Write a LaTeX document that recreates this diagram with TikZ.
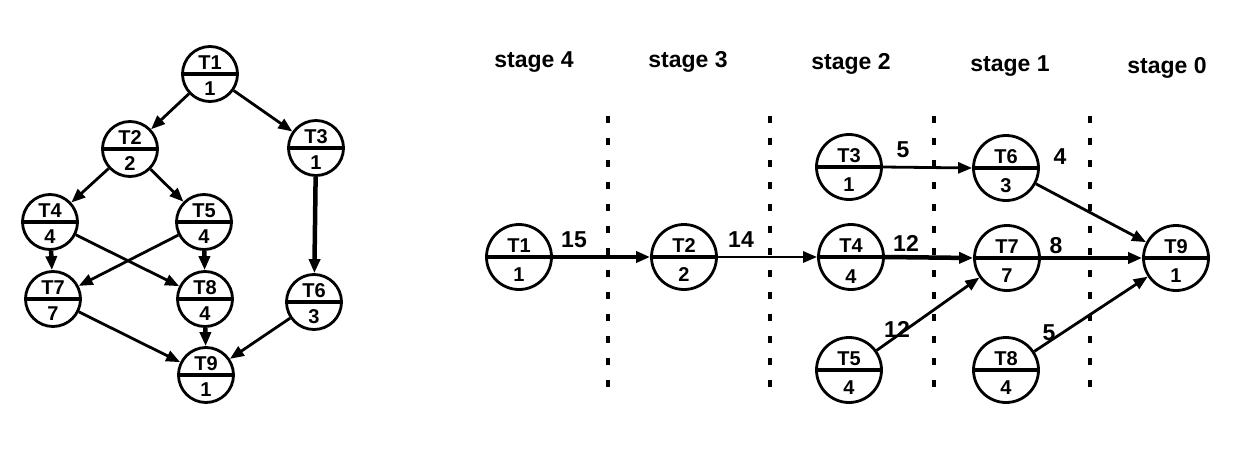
\documentclass[tikz,border=0pt]{standalone}
\usepackage{fontspec}
\setmainfont{Liberation Sans}
\usetikzlibrary{arrows.meta}
\newcommand\tsk[7]{% name, x, y, radius, top, bottom, lower offset
  \node[circle,draw,line width=2.8pt,minimum size=#4*2pt,inner sep=0pt] (#1) at (#2,#3) {};
  \draw[line width=4.5pt] (#1.west) -- (#1.east);
  \node[lab] (#1t) at ([yshift=11.5pt]#1.center) {#5};
  \node[lab] (#1b) at ([yshift=-#7pt]#1.center) {#6};
}
\begin{document}
\begin{tikzpicture}[x=1pt,y=-1pt,
  lab/.style={font=\fontsize{20}{20}\selectfont\bfseries,inner sep=0pt},
  big/.style={font=\fontsize{23}{23}\selectfont\bfseries,inner sep=0pt,anchor=base},
  edge/.style={line width=2.8pt,-{Triangle[length=14pt,width=11pt]}},
  tedge/.style={line width=4.5pt,-{Triangle[length=14pt,width=11pt]}},
  sep/.style={line width=4.5pt,dash pattern=on 7pt off 15pt}]
\useasboundingbox (0,0) rectangle (1259,466);
% left graph
\tsk{A1}{210}{74}{27.5}{T1}{1}{15}
\tsk{A2}{130}{149}{27.5}{T2}{2}{15}
\tsk{A3}{316}{148}{27.5}{T3}{1}{15}
\tsk{A4}{50}{222}{27.5}{T4}{4}{15}
\tsk{A5}{204}{222}{27.5}{T5}{4}{15}
\tsk{A7}{53}{299}{27.5}{T7}{7}{15}
\tsk{A8}{205}{299}{27.5}{T8}{4}{15}
\tsk{A6}{314}{302}{27.5}{T6}{3}{15}
\tsk{A9}{206}{375}{27.5}{T9}{1}{15}
\draw[edge] (A1) -- (A2);
\draw[edge] (A1) -- (A3);
\draw[edge] (A2) -- (A4);
\draw[edge] (A2) -- (A5);
\draw[tedge] (A3) -- (A6);
\draw[tedge] (A4) -- (A7);
\draw[edge] (A4) -- (A8);
\draw[edge] (A5) -- (A7);
\draw[tedge] (A5) -- (A8);
\draw[edge] (A7) -- (A9);
\draw[tedge] (A8) -- (A9);
\draw[edge] (A6) -- (A9);
% separators
\foreach \x/\n in {608/s1,770/s2,934/s3,1090/s4}{
  \coordinate (\n a) at (\x,116);
  \coordinate (\n b) at (\x,392);
  \draw[sep] (\n a) -- (\n b);
}
% stage labels
\node[big] (st4) at (534,67) {stage 4};
\node[big] (st3) at (688,67) {stage 3};
\node[big] (st2) at (851,69) {stage 2};
\node[big] (st1) at (1010,71) {stage 1};
\node[big] (st0) at (1167,73) {stage 0};
% right graph
\tsk{B1}{519}{257}{32.5}{T1}{1}{18}
\tsk{B2}{684}{257}{32.5}{T2}{2}{18}
\tsk{B4}{851}{257}{32.5}{T4}{4}{20}
\tsk{B7}{1007}{258}{32.5}{T7}{7}{18}
\tsk{B9}{1176}{258}{32.5}{T9}{1}{18}
\tsk{B3}{849}{167}{32.5}{T3}{1}{18}
\tsk{B6}{1006}{168}{32.5}{T6}{3}{18}
\tsk{B5}{849}{370}{32.5}{T5}{4}{18}
\tsk{B8}{1006}{370}{32.5}{T8}{4}{18}
\draw[tedge] (B1.east) -- (B2.west);
\draw[edge] (B2.east) -- (B4.west);
\draw[tedge] (B4.east) -- (B7.west);
\draw[tedge] (B7.east) -- (B9.west);
\draw[edge] (B3.east) -- (B6.west);
\draw[edge] (B6) -- (B9);
\draw[edge] (B5) -- (B7);
\draw[edge] (B8) -- (B9);
% edge weights
\node[big] (w1) at (574,247) {15};
\node[big] (w2) at (741,247) {14};
\node[big] (w3) at (906,251) {12};
\node[big] (w4) at (1056,253) {8};
\node[big] (w5) at (903,157) {5};
\node[big] (w6) at (1060,164) {4};
\node[big] (w7) at (897,337) {12};
\node[big] (w8) at (1049,340) {5};
\end{tikzpicture}
\end{document}
